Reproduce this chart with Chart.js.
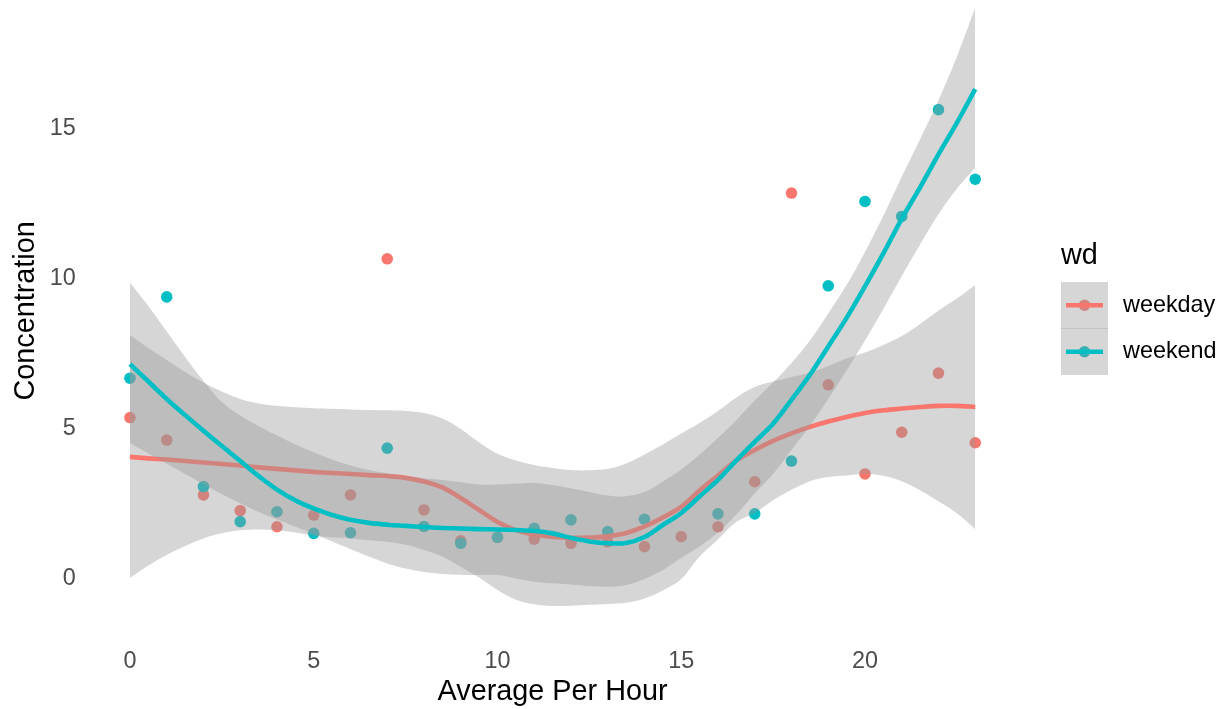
<!DOCTYPE html>
<html>
<head>
<meta charset="utf-8">
<script src="https://cdn.jsdelivr.net/npm/chart.js@4.4.1/dist/chart.umd.min.js"></script>
<style>
  html, body { margin: 0; padding: 0; background: #ffffff; }
  #c { display: block; }
</style>
</head>
<body>
<canvas id="c" width="1225" height="709"></canvas>
<script>
// ---------- data ----------
const hours = [0,1,2,3,4,5,6,7,8,9,10,11,12,13,14,15,16,17,18,19,20,21,22,23];
const weekdayConc = [5.28,4.53,2.70,2.18,1.64,2.03,2.70,10.57,2.20,1.17,1.29,1.23,1.09,1.14,0.98,1.31,1.64,3.14,12.76,6.37,3.40,4.79,6.76,4.44];
const weekendConc = [6.59,9.30,2.98,1.81,2.14,1.42,1.44,4.26,1.65,1.09,1.29,1.59,1.87,1.48,1.89,null,2.07,2.07,3.83,9.67,12.48,11.98,15.54,13.22];

const smoothX = [0,0.5,1,1.5,2,2.5,3,3.5,4,4.5,5,5.5,6,6.5,7,7.5,8,8.5,9,9.5,10,10.5,11,11.5,12,12.5,13,13.5,14,14.5,15,15.5,16,16.5,17,17.5,18,18.5,19,19.5,20,20.5,21,21.5,22,22.5,23];
const weekdayFit  = [3.97,3.92,3.88,3.83,3.78,3.73,3.68,3.62,3.57,3.52,3.47,3.43,3.40,3.36,3.33,3.27,3.15,2.95,2.60,2.20,1.80,1.53,1.38,1.30,1.27,1.28,1.32,1.43,1.65,1.95,2.30,2.85,3.35,3.85,4.20,4.50,4.75,4.97,5.15,5.30,5.43,5.52,5.58,5.63,5.67,5.67,5.63];
const weekdayHigh = [8.03,7.60,7.20,6.80,6.45,6.15,5.90,5.75,5.67,5.62,5.59,5.57,5.55,5.53,5.52,5.50,5.43,5.25,4.90,4.45,4.07,3.85,3.70,3.60,3.53,3.52,3.57,3.75,4.05,4.38,4.75,5.10,5.50,5.95,6.30,6.48,6.63,6.78,7.00,7.25,7.45,7.70,8.00,8.40,8.85,9.25,9.70];
const weekdayLow  = [-0.07,0.35,0.70,1.00,1.25,1.42,1.52,1.55,1.52,1.45,1.35,1.29,1.25,1.19,1.14,1.04,0.87,0.65,0.30,-0.05,-0.47,-0.79,-0.94,-1.00,-0.99,-0.96,-0.93,-0.89,-0.75,-0.48,-0.10,0.65,1.22,1.80,2.10,2.52,2.87,3.16,3.30,3.35,3.41,3.34,3.16,2.86,2.49,2.09,1.56];
const weekendFit  = [7.06,6.48,5.90,5.36,4.84,4.33,3.83,3.33,2.88,2.52,2.25,2.03,1.87,1.77,1.71,1.67,1.63,1.60,1.58,1.56,1.55,1.53,1.50,1.42,1.27,1.15,1.09,1.10,1.30,1.70,2.10,2.65,3.20,3.85,4.47,5.07,5.87,6.70,7.65,8.60,9.65,10.75,11.90,12.95,14.05,15.10,16.22];
const weekendHigh = [9.78,9.00,8.15,7.30,6.50,5.80,5.35,5.00,4.68,4.38,4.12,3.88,3.68,3.53,3.42,3.33,3.26,3.20,3.12,3.05,3.05,3.08,3.10,3.03,2.92,2.80,2.68,2.66,2.80,3.15,3.55,4.05,4.60,5.20,5.85,6.45,7.10,7.85,8.75,9.70,10.80,12.00,13.30,14.55,15.85,17.30,18.94];
const weekendLow  = [4.43,4.08,3.74,3.40,3.06,2.73,2.42,2.13,1.88,1.64,1.40,1.15,0.90,0.65,0.42,0.25,0.13,0.07,0.04,0.03,0.03,-0.08,-0.19,-0.24,-0.28,-0.33,-0.36,-0.30,-0.10,0.20,0.60,0.98,1.45,2.05,2.75,3.40,4.20,5.00,5.90,6.85,7.85,8.90,10.00,11.05,12.05,12.90,13.60];

const xTicks = [0,5,10,15,20];
const yTicks = [0,5,10,15];
const seriesNames = ['weekday','weekend'];
const legendTitle = 'wd';
const xTitle = 'Average Per Hour';
const yTitle = 'Concentration';

// ---------- styling ----------
const FONT = '"Liberation Sans", Arial, Helvetica, sans-serif';
const COLORS = ['#F8766D', '#00BFC4'];
const RIBBON = 'rgba(153,153,153,0.4)';
const NONE = 'rgba(0,0,0,0)';

const pts = (xs, ys) => xs.map((x, i) => ({x: x, y: ys[i]}));

const pointDs = (name, ys, color, order) => ({
  label: name, data: pts(hours, ys), showLine: false,
  pointRadius: 5.8, pointHoverRadius: 5.8, pointBorderWidth: 0,
  pointBackgroundColor: color, borderColor: color, backgroundColor: color,
  order: order
});
const bandEdge = (name, ys, fillTarget, order) => ({
  label: name, data: pts(smoothX, ys), pointRadius: 0, borderColor: NONE,
  borderWidth: 1, backgroundColor: RIBBON, fill: fillTarget, tension: 0.35, order: order
});
const fitDs = (name, ys, color, order) => ({
  label: name, data: pts(smoothX, ys), pointRadius: 0, borderColor: color,
  borderWidth: 4.6, fill: false, tension: 0.35, order: order,
  borderCapStyle: 'butt', borderJoinStyle: 'round'
});

const datasets = [
  pointDs(seriesNames[0], weekdayConc, COLORS[0], 20),          // 0
  pointDs(seriesNames[1], weekendConc, COLORS[1], 19),          // 1
  bandEdge('weekday low', weekdayLow, false, 18),               // 2
  bandEdge('weekday high', weekdayHigh, 2, 17),                 // 3
  fitDs('weekday fit', weekdayFit, COLORS[0], 16),              // 4
  bandEdge('weekend low', weekendLow, false, 15),               // 5
  bandEdge('weekend high', weekendHigh, 5, 14),                 // 6
  fitDs('weekend fit', weekendFit, COLORS[1], 13)               // 7
];

// ggplot-like legend drawn with the canvas
const legendPlugin = {
  id: 'ggLegend',
  afterDraw(chart) {
    const ctx = chart.ctx;
    ctx.save();
    ctx.fillStyle = '#000';
    ctx.font = '28.8px ' + FONT;
    ctx.textBaseline = 'middle';
    ctx.textAlign = 'left';
    ctx.fillText(legendTitle, 1061, 256);
    const keyX = 1061, keyW = 47, keyH = 46.5, top0 = 282;
    seriesNames.forEach((name, i) => {
      const ky = top0 + i * keyH;
      const cx = keyX + keyW / 2, cy = ky + keyH / 2;
      ctx.beginPath();
      ctx.arc(cx, cy, 5.8, 0, Math.PI * 2);
      ctx.fillStyle = COLORS[i];
      ctx.fill();
      ctx.fillStyle = RIBBON;
      ctx.fillRect(keyX, ky, keyW, keyH);
      ctx.beginPath();
      ctx.moveTo(keyX + 5, cy);
      ctx.lineTo(keyX + keyW - 5, cy);
      ctx.strokeStyle = COLORS[i];
      ctx.lineWidth = 4.6;
      ctx.stroke();
      ctx.fillStyle = '#000';
      ctx.font = '23.4px ' + FONT;
      ctx.fillText(name, 1123, cy);
    });
    ctx.fillStyle = 'rgba(153,153,153,0.35)';
    ctx.fillRect(keyX, top0 + keyH - 0.5, keyW, 1);
    ctx.restore();
  }
};

new Chart(document.getElementById('c'), {
  type: 'line',
  data: { datasets: datasets },
  plugins: [legendPlugin],
  options: {
    responsive: false,
    animation: false,
    devicePixelRatio: 1,
    layout: { padding: { left: 0, right: 207.5, top: 0, bottom: 0 } },
    plugins: { legend: { display: false }, tooltip: { enabled: false } },
    scales: {
      x: {
        type: 'linear', min: -1.15, max: 24.15,
        grid: { display: false, drawTicks: false },
        border: { display: false },
        ticks: { padding: 32, color: '#4D4D4D', maxRotation: 0, autoSkip: false,
                 font: { size: 23.4, family: FONT } },
        afterBuildTicks: (s) => { s.ticks = xTicks.map(v => ({ value: v })); },
        afterFit: (s) => { s.height = 93; s.paddingLeft = 0; s.paddingRight = 0; },
        title: { display: true, text: xTitle, color: '#000',
                 font: { size: 28.8, family: FONT }, padding: { top: 0, bottom: 0 } }
      },
      y: {
        type: 'linear', min: -1.3333, max: 19.0,
        grid: { display: false, drawTicks: false },
        border: { display: false },
        ticks: { padding: 12, labelOffset: 3, color: '#4D4D4D', font: { size: 23.4, family: FONT } },
        afterBuildTicks: (s) => { s.ticks = yTicks.map(v => ({ value: v })); },
        afterFit: (s) => { s.width = 87.7; s.paddingTop = 0; s.paddingBottom = 0; },
        title: { display: true, text: yTitle, color: '#000',
                 font: { size: 28.8, family: FONT }, padding: { top: 9, bottom: 0 } }
      }
    }
  }
});
</script>
</body>
</html>
